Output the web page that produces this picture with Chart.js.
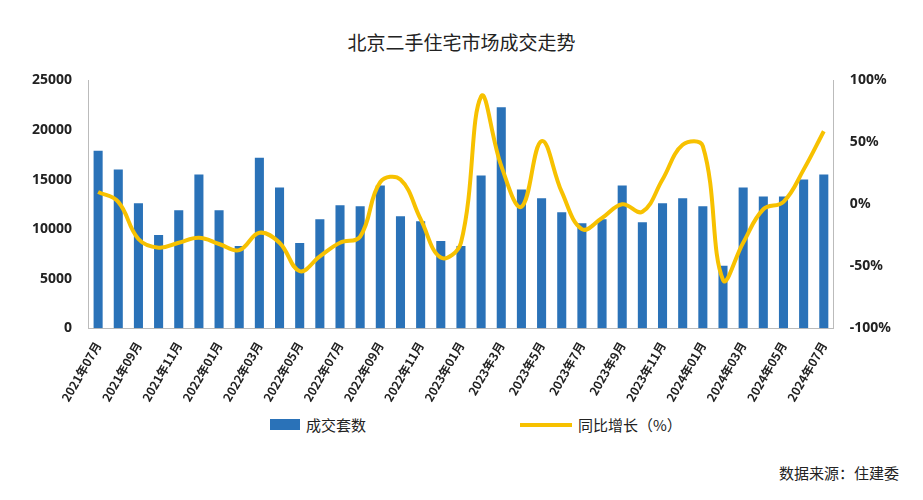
<!DOCTYPE html>
<html><head><meta charset="utf-8">
<script src="https://cdn.jsdelivr.net/npm/chart.js@4"></script>
<style>
body{margin:0;width:923px;height:500px;background:#fff;font-family:"Noto Sans CJK SC","Noto Sans",sans-serif;position:relative;overflow:hidden}
#title{position:absolute;top:28px;left:0;width:923px;text-align:center;font-size:19px;color:#222}
#wrap{position:absolute;left:0;top:64px;width:923px;height:343px}
#legend{position:absolute;top:414px;left:0;width:923px;font-size:15px;color:#222}
.lg{position:absolute;display:flex;align-items:center}
#src{position:absolute;right:24px;top:462px;font-size:15px;color:#222}
</style></head><body>
<div id="title">北京二手住宅市场成交走势</div>
<div id="wrap"><canvas id="c"></canvas></div>
<div id="legend">
  <div class="lg" style="left:270px"><span style="display:inline-block;width:30px;height:11px;background:#2a72b8;margin-right:6px"></span>成交套数</div>
  <div class="lg" style="left:520px"><span style="display:inline-block;width:52px;height:4px;background:#f7c100;margin-right:6px"></span>同比增长（%）</div>
</div>
<div id="src">数据来源：住建委</div>
<script>
const months = ['2021年07月','2021年08月','2021年09月','2021年10月','2021年11月','2021年12月',
  '2022年01月','2022年02月','2022年03月','2022年04月','2022年05月','2022年06月','2022年07月','2022年08月',
  '2022年09月','2022年10月','2022年11月','2022年12月','2023年01月','2023年2月','2023年3月','2023年4月',
  '2023年5月','2023年6月','2023年7月','2023年8月','2023年9月','2023年10月','2023年11月','2023年12月',
  '2024年01月','2024年02月','2024年03月','2024年04月','2024年05月','2024年06月','2024年07月'];
const deals = [17900,16000,12600,9400,11900,15500,11900,8300,17200,14200,8600,11000,12400,12300,
  14400,11300,10800,8800,8300,15400,22300,14000,13100,11700,10600,11000,14400,10700,12600,13100,
  12300,6300,14200,13300,13300,15000,15500];
const growth = [10,2,-28,-35,-31,-27,-32,-37,-23,-31,-54,-42,-31,-26,18,20,-12,-43,-31,87,31,-2,51,10,
  -20,-11,0,-6,20,48,47,-61,-31,-4,2,28,59];
const tickFont = {family:'"Noto Sans","Noto Sans CJK SC",sans-serif', size:14, weight:'bold'};

new Chart(document.getElementById('c'), {
  data: {
    labels: months,
    datasets: [
      {type:'line', label:'同比增长（%）', data:growth, yAxisID:'y2', borderColor:'#f7c100',
       borderWidth:4, pointRadius:0, tension:0.4, order:0},
      {type:'bar', label:'成交套数', data:deals, yAxisID:'y', backgroundColor:'#2a72b8',
       categoryPercentage:1, barPercentage:0.45, order:1}
    ]
  },
  options: {
    responsive:true, maintainAspectRatio:false, animation:false,
    layout:{padding:{left:24,right:24,top:11}},
    plugins:{legend:{display:false}, tooltip:{enabled:false}},
    scales:{
      x:{grid:{display:false}, border:{color:'#bbb'},
         ticks:{autoSkip:false, minRotation:60, maxRotation:60, color:'#222',
           font:{family:'"Noto Sans CJK SC",sans-serif', size:12, weight:'bold'},
           callback:(v,i)=> i%2===0 ? months[i] : ''}},
      y:{min:0,max:25000, ticks:{stepSize:5000,color:'#222',font:tickFont,padding:8,callback:v=>String(v)},
         grid:{display:false,drawTicks:true}, border:{color:'#bbb'}},
      y2:{position:'right',min:-100,max:100, ticks:{stepSize:50,color:'#222',font:tickFont,padding:8,
         callback:v=>v+'%'}, grid:{display:false}, border:{color:'#bbb'}}
    }
  }
});
</script></body></html>
